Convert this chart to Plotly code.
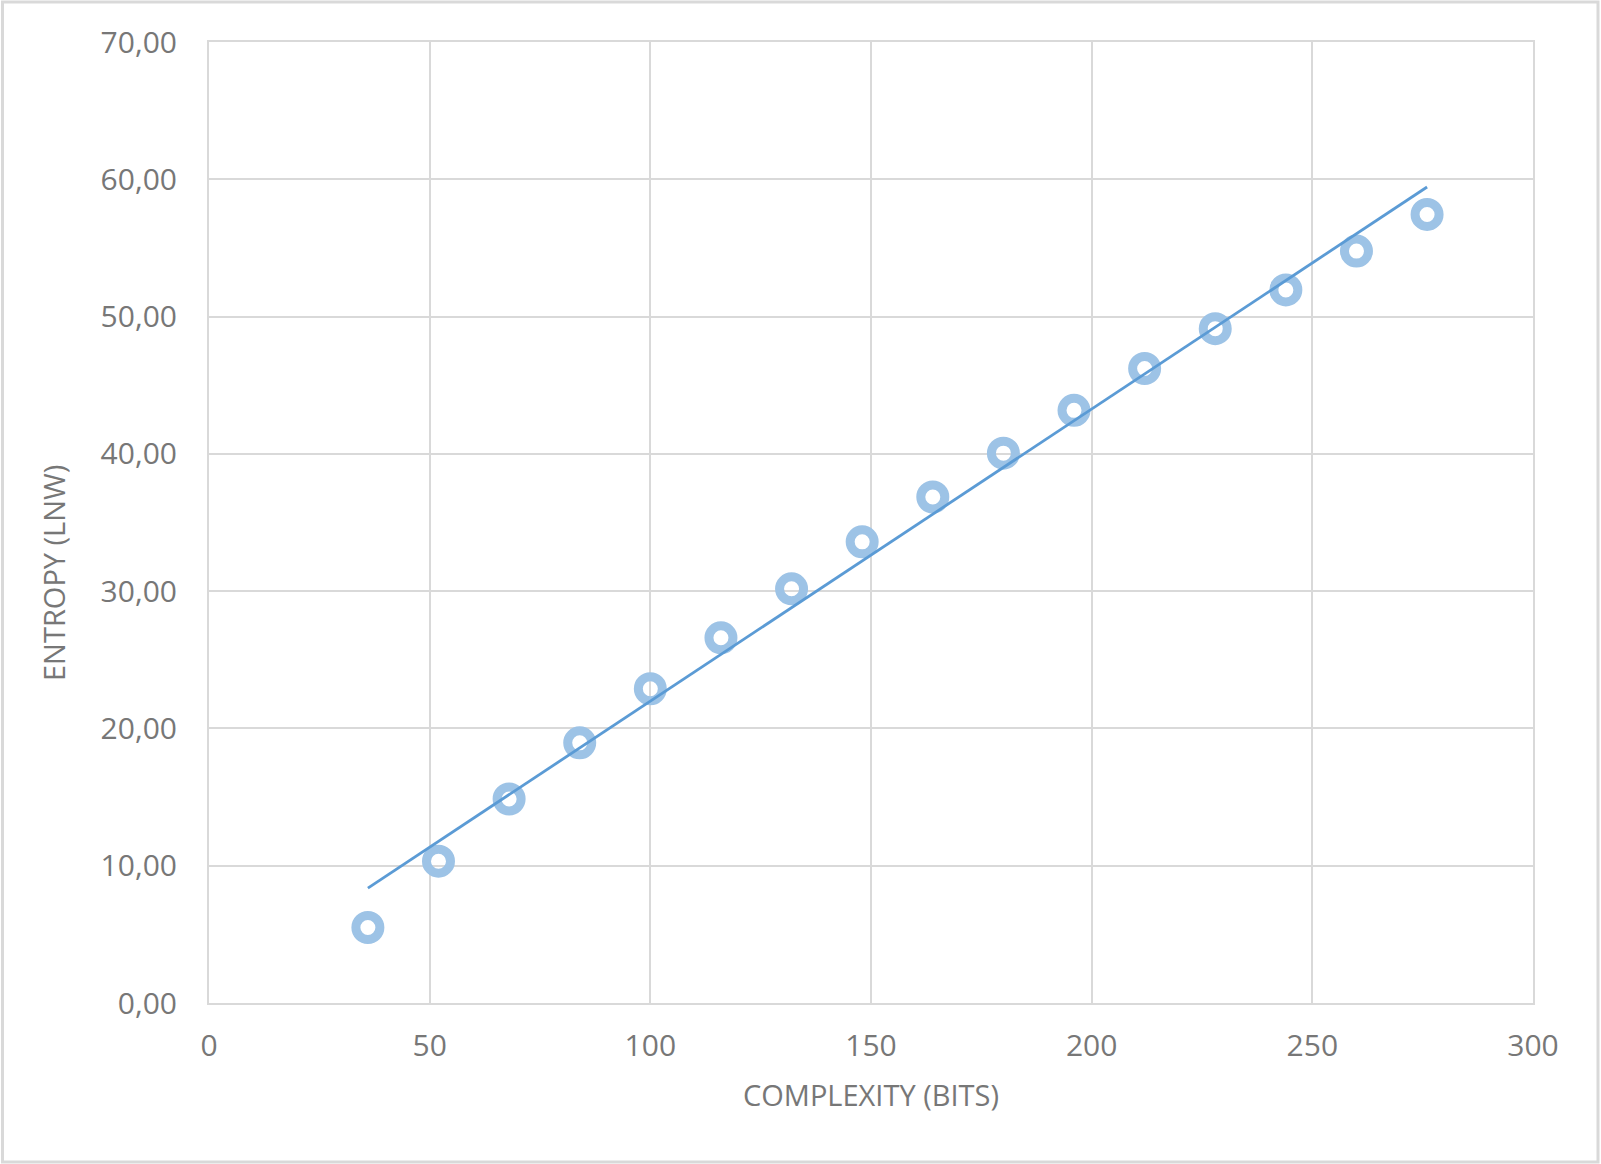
import numpy as np
import plotly.graph_objects as go

complexity_bits = [36, 52, 68, 84, 100, 116, 132, 148, 164, 180, 196, 212, 228, 244, 260, 276]
entropy_lnw = [5.50, 10.33, 14.86, 18.95, 22.89, 26.60, 30.17, 33.59, 36.86, 40.05,
               43.17, 46.22, 49.12, 51.94, 54.77, 57.44]
x_ticks = [0, 50, 100, 150, 200, 250, 300]
y_ticks = [0, 10, 20, 30, 40, 50, 60, 70]

W, H = 1601, 1164
L, R, T, B = 209, 1533, 42, 1003
pw, ph = R - L, B - T

slope, intercept = np.polyfit(complexity_bits, entropy_lnw, 1)
trend_x = [complexity_bits[0], complexity_bits[-1]]
trend_y = [slope * v + intercept for v in trend_x]

FONT = "Open Sans"
GRID = "#d9d9d9"
TXT = "#777777"

fig = go.Figure()
fig.add_trace(go.Scatter(
    x=complexity_bits, y=entropy_lnw, mode="markers",
    marker=dict(symbol="circle-open", size=24, color="#9dc3e6",
                line=dict(width=9, color="#9dc3e6")),
    showlegend=False, hoverinfo="x+y"))
fig.add_trace(go.Scatter(
    x=trend_x, y=trend_y, mode="lines",
    line=dict(color="#5b9bd5", width=2.8),
    showlegend=False, hoverinfo="skip"))

fig.update_layout(
    width=W, height=H,
    margin=dict(l=L, r=W - R, t=T, b=H - B),
    paper_bgcolor="white", plot_bgcolor="white",
    separators=",.",
    font=dict(family=FONT, color=TXT, size=30),
    xaxis=dict(range=[0, 300], tickvals=x_ticks, showgrid=True, gridcolor=GRID, gridwidth=2,
               zeroline=False, showline=True, mirror=True, linecolor=GRID, linewidth=2,
               ticks="", ticklabelstandoff=15, tickfont=dict(size=30, color=TXT)),
    yaxis=dict(range=[0, 70], tickvals=y_ticks, tickformat=".2f", showgrid=True,
               gridcolor=GRID, gridwidth=2, zeroline=False, showline=True, mirror=True,
               linecolor=GRID, linewidth=2, ticks="", ticklabelstandoff=24,
               tickfont=dict(size=30, color=TXT)),
    annotations=[
        dict(text="COMPLEXITY (BITS)", xref="paper", yref="paper", x=0.5, y=0,
             yshift=-(1094 - B), xanchor="center", yanchor="middle", showarrow=False,
             font=dict(size=29, color=TXT, family=FONT)),
        dict(text="ENTROPY (LNW)", xref="paper", yref="paper", x=0, y=(B - 573) / ph,
             xshift=-(L - 54), xanchor="center", yanchor="middle", textangle=-90,
             showarrow=False, font=dict(size=29, color=TXT, family=FONT)),
    ],
    shapes=[dict(type="rect", xref="paper", yref="paper",
                 x0=(2.5 - L) / pw, x1=(1598 - L) / pw,
                 y0=(B - 1162) / ph, y1=(B - 2) / ph,
                 line=dict(color=GRID, width=3), fillcolor="rgba(0,0,0,0)", layer="below")],
)

fig.write_html("out.html", config={"displayModeBar": False},
               post_script="document.body.style.margin='0';document.body.style.overflow='hidden';")
